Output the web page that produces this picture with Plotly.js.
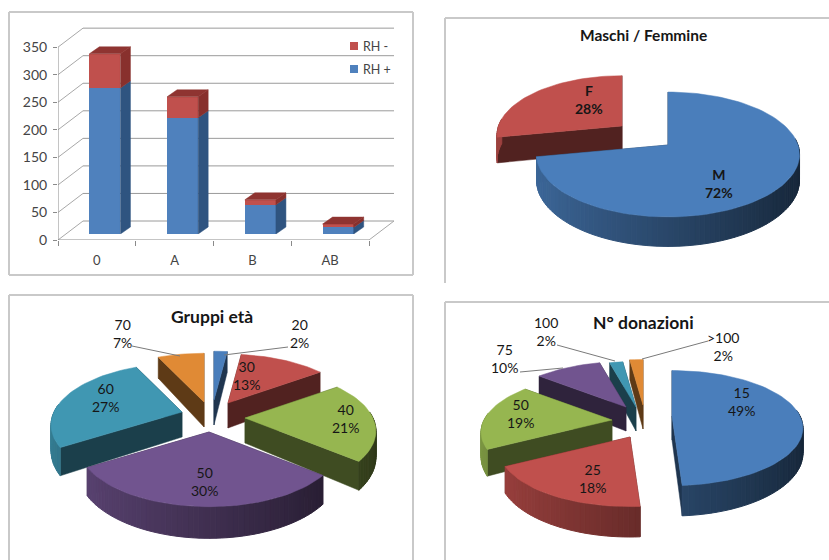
<!DOCTYPE html>
<html><head><meta charset="utf-8">
<script src="https://cdn.plot.ly/plotly-3.0.1.min.js"></script>
<style>html,body{margin:0;padding:0;background:#fff}</style></head>
<body><div id="chart" style="width:829px;height:560px"></div>
<script>
// ---- data ----
const bloodGroups = ['0','A','B','AB'];
const rhPositive = [265,211,53,12];
const rhNegative = [62,38,9,6];
const yTicks = [0,50,100,150,200,250,300,350];

const sexLabels = ['M','F'];
const sexPercent = [72,28];

const ageLabels = ['20','30','40','50','60','70'];
const agePercent = [2,13,21,30,27,7];

const donationLabels = ['15','25','50','75','100','>100'];
const donationPercent = [49,18,19,10,2,2];

// ---- palette ----
const colBlue='#4a7ebb', colRed='#c0504d', colGreen='#96b650', colPurple='#71548f', colTeal='#4097b2', colOrange='#e08a35';
const sexColors=[colBlue,colRed];
const ageColors=[colBlue,colRed,colGreen,colPurple,colTeal,colOrange];

const traces=[]; const annotations=[];
function shade(hex,f){const n=parseInt(hex.slice(1),16);
  return 'rgb('+[(n>>16)&255,(n>>8)&255,n&255].map(c=>Math.round(c*f)).join(',')+')';}

// ---- exploded perspective pie built from percent values on the page axes ----
function poly(xs,ys,color,w){traces.push({type:'scatter',mode:'lines',x:xs,y:ys,fill:'toself',fillcolor:color,
  line:{color:color,width:w||0.5},hoverinfo:'skip',showlegend:false,xaxis:'x',yaxis:'y'});}
function pie3d(values,colors,g){
  let cum=0; const rad=Math.PI/180;
  const wedges=values.map((v,i)=>{const a0=cum*3.6; cum+=v; return {i,a0,a1:cum*3.6};});
  const P=(w,deg)=>{const X=Math.sin(deg*rad),Y=Math.cos(deg*rad),s=1/(1+g.k*Y),z=(g.scale&&g.scale[w.i])||1;
    return {x:g.apex[w.i][0]+g.B*z*X*s,y:g.apex[w.i][1]-g.A*z*Y*s,d:g.d*s,Y};};
  wedges.sort((p,q)=>g.order.indexOf(p.i)-g.order.indexOf(q.i));
  wedges.forEach(w=>{
    const c=colors[w.i], ax=g.apex[w.i][0], ay=g.apex[w.i][1];
    const t0=P(w,w.a0), t1=P(w,w.a1);
    const faces=[t0,t1].sort((a,b)=>a.y-b.y);
    faces.forEach(t=>poly([ax,ax,t.x,t.x,ax],[ay,ay+g.d,t.y+t.d,t.y,ay],shade(c,0.42)));
    const step=2;
    for(let a=w.a0;a<w.a1-1e-6;a+=step){
      const b=Math.min(a+step,w.a1), m=(a+b)/2, p=P(w,a), q=P(w,b);
      if(Math.cos(m*rad)>0.12) continue;
      const f=0.82-0.52*(Math.sin(m*rad)+1)/2;
      poly([p.x,q.x,q.x,p.x,p.x],[p.y,q.y,q.y+q.d,p.y+p.d,p.y],shade(c,f),1);
    }
    const xs=[ax],ys=[ay];
    for(let a=w.a0;;a+=2.5){const d=Math.min(a,w.a1),p=P(w,d);xs.push(p.x);ys.push(p.y);if(a>=w.a1)break;}
    xs.push(ax);ys.push(ay);
    poly(xs,ys,c);
  });
}
pie3d(sexPercent,sexColors,{A:61,B:130,k:0.152,d:25,order:[1,0],apex:[[668,145],[622,126]],scale:[1,0.95]});
pie3d(agePercent,ageColors,{A:59,B:128,k:0.21,d:25,order:[5,0,1,4,2,3],
  apex:[[214,400],[228,403],[245,418],[209,432],[182,412],[204,402]]});
pie3d(donationPercent,ageColors,{A:55,B:128,k:0.21,d:24,order:[5,4,3,2,1,0],
  apex:[[672,416],[630,437],[612,420],[626,407],[636,407],[643,405]]});

// ---- leader lines ----
[[[132,180],[346,356]],[[224,288],[355,347]],[[557,615],[345,361]],[[520,563],[372,368]],[[708,642],[341,359]]]
 .forEach(l=>traces.push({type:'scatter',mode:'lines',x:l[0],y:l[1],line:{color:'#7a7a7a',width:1},hoverinfo:'skip',showlegend:false,xaxis:'x',yaxis:'y'}));

// ---- bar chart: wall and floor on x2/y2 ----
const pxPerCat=77.75, pxPerUnit=0.551;
const wallX=25/pxPerCat, wallY=19/pxPerUnit, leftX=-0.5, rightX=3.5;
function line2(xs,ys,color,w){traces.push({type:'scatter',mode:'lines',x:xs,y:ys,line:{color:color,width:w||1},hoverinfo:'skip',showlegend:false,xaxis:'x2',yaxis:'y2'});}
yTicks.forEach(v=>{
  line2([leftX,leftX+wallX],[v,v+wallY],'#a8a8a8');
  line2([leftX+wallX,rightX+wallX],[v+wallY,v+wallY],'#9a9a9a');
});
line2([rightX,rightX+wallX],[0,wallY],'#a8a8a8');
line2([leftX,leftX],[0,yTicks[yTicks.length-1]],'#8a8a8a');
line2([leftX,rightX],[0,0],'#8a8a8a');

// ---- bars on x3/y3, with side and top faces ----
const idx=bloodGroups.map((_,i)=>i), barW=0.4;
traces.push({type:'bar',name:'RH +',x:idx,y:rhPositive,width:barW,marker:{color:'#4f81bd',line:{width:0}},hoverinfo:'skip',showlegend:false,xaxis:'x3',yaxis:'y3'});
traces.push({type:'bar',name:'RH -',x:idx,y:rhNegative,width:barW,marker:{color:'#c0504d',line:{width:0}},hoverinfo:'skip',showlegend:false,xaxis:'x3',yaxis:'y3'});
const dX=10/pxPerCat, dY=7/pxPerUnit;
function poly3(xs,ys,color){traces.push({type:'scatter',mode:'lines',x:xs,y:ys,fill:'toself',fillcolor:color,line:{color:color,width:0.5},hoverinfo:'skip',showlegend:false,xaxis:'x3',yaxis:'y3'});}
idx.forEach(i=>{
  const r=i+barW/2,l=i-barW/2,b=rhPositive[i],t=b+rhNegative[i];
  poly3([r,r+dX,r+dX,r,r],[0,dY,b+dY,b,0],'#2f5480');
  poly3([r,r+dX,r+dX,r,r],[b,b+dY,t+dY,t,b],'#88302d');
  poly3([l,l+dX,r+dX,r,l],[t,t+dY,t+dY,t,t],'#8f3431');
});

// ---- legend keys ----
traces.push({type:'scatter',mode:'markers',x:[354,354],y:[46,69],marker:{symbol:'square',size:8,color:['#c0504d','#4f81bd']},hoverinfo:'skip',showlegend:false,xaxis:'x',yaxis:'y'});

// ---- text ----
const FONT='Lato, "Open Sans", sans-serif', INK='#161616';
function note(x,y,text,size,bold,color,anchor){annotations.push({xref:'x',yref:'y',x,y,text:bold?'<b>'+text+'</b>':text,showarrow:false,
  xanchor:anchor||'center',yanchor:'middle',font:{family:FONT,size,color:color||INK}});}
note(361,46,'RH -',12.5,false,'#444','left');
note(361,69,'RH +',12.5,false,'#444','left');
note(643,35,'Maschi / Femmine',15.5,true);
note(212,316,'Gruppi età',17.5,true);
note(643,322,'N° donazioni',17.5,true);
function pieLabels(labels,values,pos,bold){labels.forEach((t,i)=>note(pos[i][0],pos[i][1],t+'<br>'+values[i]+'%',14,bold));}
pieLabels(sexLabels,sexPercent,[[719,183],[589,99]],true);
pieLabels(ageLabels,agePercent,[[299,333],[246,375],[345,418],[204,481],[105,397],[122,333]],false);
pieLabels(donationLabels,donationPercent,[[741,401],[592,478],[520,413],[504,358],[546,331],[723,346]],false);

// ---- panels ----
const border='#c9c9c9';
const seg=(x0,y0,x1,y1)=>({type:'line',xref:'x',yref:'y',x0,y0,x1,y1,line:{color:border,width:2},layer:'below'});
const shapes=[
  seg(9,12,413,12),seg(9,12,9,275),seg(9,275,413,275),seg(413,12,413,275),
  seg(445,18,829,18),seg(445,18,445,283),
  seg(9,295,413,295),seg(9,295,9,560),seg(413,295,413,560),
  seg(445,302,829,302),seg(445,302,445,560)
];

const W=829,H=560;
const dom=(a,b,t)=>[a/t,b/t];
const catRange=[leftX,leftX+342/pxPerCat], valRange=[0,220/pxPerUnit];
const hidden={visible:false,fixedrange:true};
const layout={width:W,height:H,margin:{l:0,r:0,t:0,b:0},paper_bgcolor:'#fff',plot_bgcolor:'rgba(0,0,0,0)',
  showlegend:false,barmode:'stack',bargap:0,shapes,annotations,
  xaxis:{...hidden,range:[0,W],domain:[0,1],anchor:'y'},
  yaxis:{...hidden,range:[H,0],domain:[0,1],anchor:'x'},
  xaxis2:{domain:dom(58,400,W),range:catRange,anchor:'y2',fixedrange:true,zeroline:false,showgrid:false,showline:false,
    tickmode:'array',tickvals:idx,ticktext:bloodGroups,ticks:'',ticklabelstandoff:11,
    tickfont:{family:FONT,size:13,color:'#444'},
    minor:{tickmode:'array',tickvals:[-0.5,0.5,1.5,2.5,3.5],ticks:'outside',ticklen:5,tickcolor:'#8a8a8a',showgrid:false}},
  yaxis2:{domain:dom(H-240,H-20,H),range:valRange,anchor:'x2',fixedrange:true,zeroline:false,showgrid:false,showline:false,
    tickmode:'array',tickvals:yTicks,ticks:'outside',ticklen:4,tickcolor:'#8a8a8a',ticklabelstandoff:3,
    tickfont:{family:FONT,size:14,color:'#444'}},
  xaxis3:{...hidden,domain:dom(66,408,W),range:catRange,anchor:'y3'},
  yaxis3:{...hidden,domain:dom(H-234,H-14,H),range:valRange,anchor:'x3'}
};
Plotly.newPlot('chart',traces,layout,{displayModeBar:false,staticPlot:true});
</script></body></html>
